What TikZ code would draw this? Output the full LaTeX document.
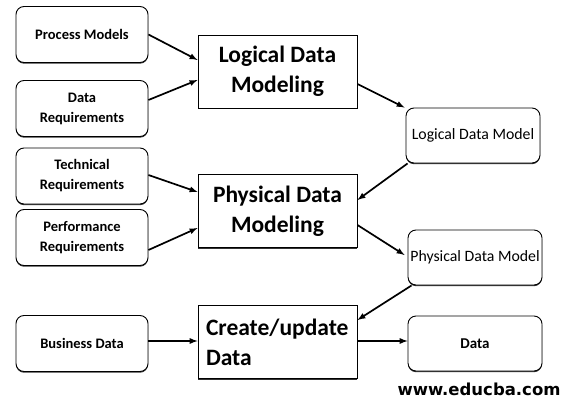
\documentclass[tikz,border=0pt]{standalone}
\usepackage{fontspec}
\usetikzlibrary{shadows}
\setmainfont{Carlito}
\newfontfamily\webfont{DejaVu Sans}
\begin{document}
\begin{tikzpicture}[x=1pt,y=-1pt]
\tikzset{
 lowshadow/.style={drop shadow={shadow xshift=0pt,shadow yshift=-1.2pt,fill=black!80,opacity=1}},
 inbox/.style={draw,fill=white,lowshadow,rounded corners=8pt,line width=0.9pt,minimum width=132pt,minimum height=56pt,inner xsep=2pt,align=center,font=\bfseries\fontsize{14.5}{20}\selectfont},
 outbox/.style={draw,fill=white,lowshadow,rounded corners=8pt,line width=0.9pt,minimum width=134pt,minimum height=55pt,inner xsep=1.5pt,align=center,font=\fontsize{15.8}{19}\selectfont},
 stepbox/.style={draw,fill=white,lowshadow,line width=0.9pt,minimum width=159pt,minimum height=73pt,inner sep=2pt,font=\bfseries\fontsize{23.5}{30}\selectfont},
 arr/.style={->,>=latex,line width=1.7pt}
}
\useasboundingbox (0,0) rectangle (569,406);
\node[inbox] (pm)at(82,34.5){Process Models};
\node[inbox] (dr)at(82,108.5){Data\\Requirements};
\node[inbox] (tr)at(82,176){Technical\\Requirements};
\node[inbox] (pr)at(82,237.5){Performance\\Requirements};
\node[inbox] (bd)at(82,343.5){Business Data};
\node[stepbox,align=center] (ldm)at(277.5,71.5){Logical Data\\Modeling};
\node[stepbox,align=center] (pdm)at(277.5,211){Physical Data\\Modeling};
\node[stepbox,align=left,text width=143pt] (cud)at(277.5,342){Create/update\\Data};
\node[outbox] (lm)at(473,135.5){Logical Data Model};
\node[outbox] (pmo)at(475,257.5){Physical Data Model};
\node[outbox,font=\bfseries\fontsize{15}{18}\selectfont] (da)at(475,343.5){Data};
\node[font=\webfont\bfseries\fontsize{16.5}{20}\selectfont] (web)at(479,389){www.educba.com};
\draw[arr] (pm.east) -- ([yshift=11.5pt]ldm.west);
\draw[arr] ([yshift=8.5pt]dr.east) -- ([yshift=-8.5pt]ldm.west);
\draw[arr] ([yshift=-12.5pt]ldm.east) -- ([xshift=-1pt]lm.north west);
\draw[arr] ([xshift=2pt]lm.south west) -- ([yshift=11pt]pdm.east);
\draw[arr] ([yshift=1pt]tr.east) -- ([yshift=19pt]pdm.west);
\draw[arr] ([yshift=-12.5pt]pr.east) -- ([yshift=-17pt]pdm.west);
\draw[arr] ([yshift=-14pt]pdm.east) -- ([xshift=-3pt,yshift=2.5pt]pmo.west);
\draw[arr] ([xshift=4pt]pmo.south west) -- ([yshift=22pt]cud.east);
\draw[arr] ([yshift=2.5pt]bd.east) -- ([yshift=1pt]cud.west);
\draw[arr] ([yshift=1pt]cud.east) -- ([yshift=2.5pt]da.west);
\end{tikzpicture}
\end{document}
